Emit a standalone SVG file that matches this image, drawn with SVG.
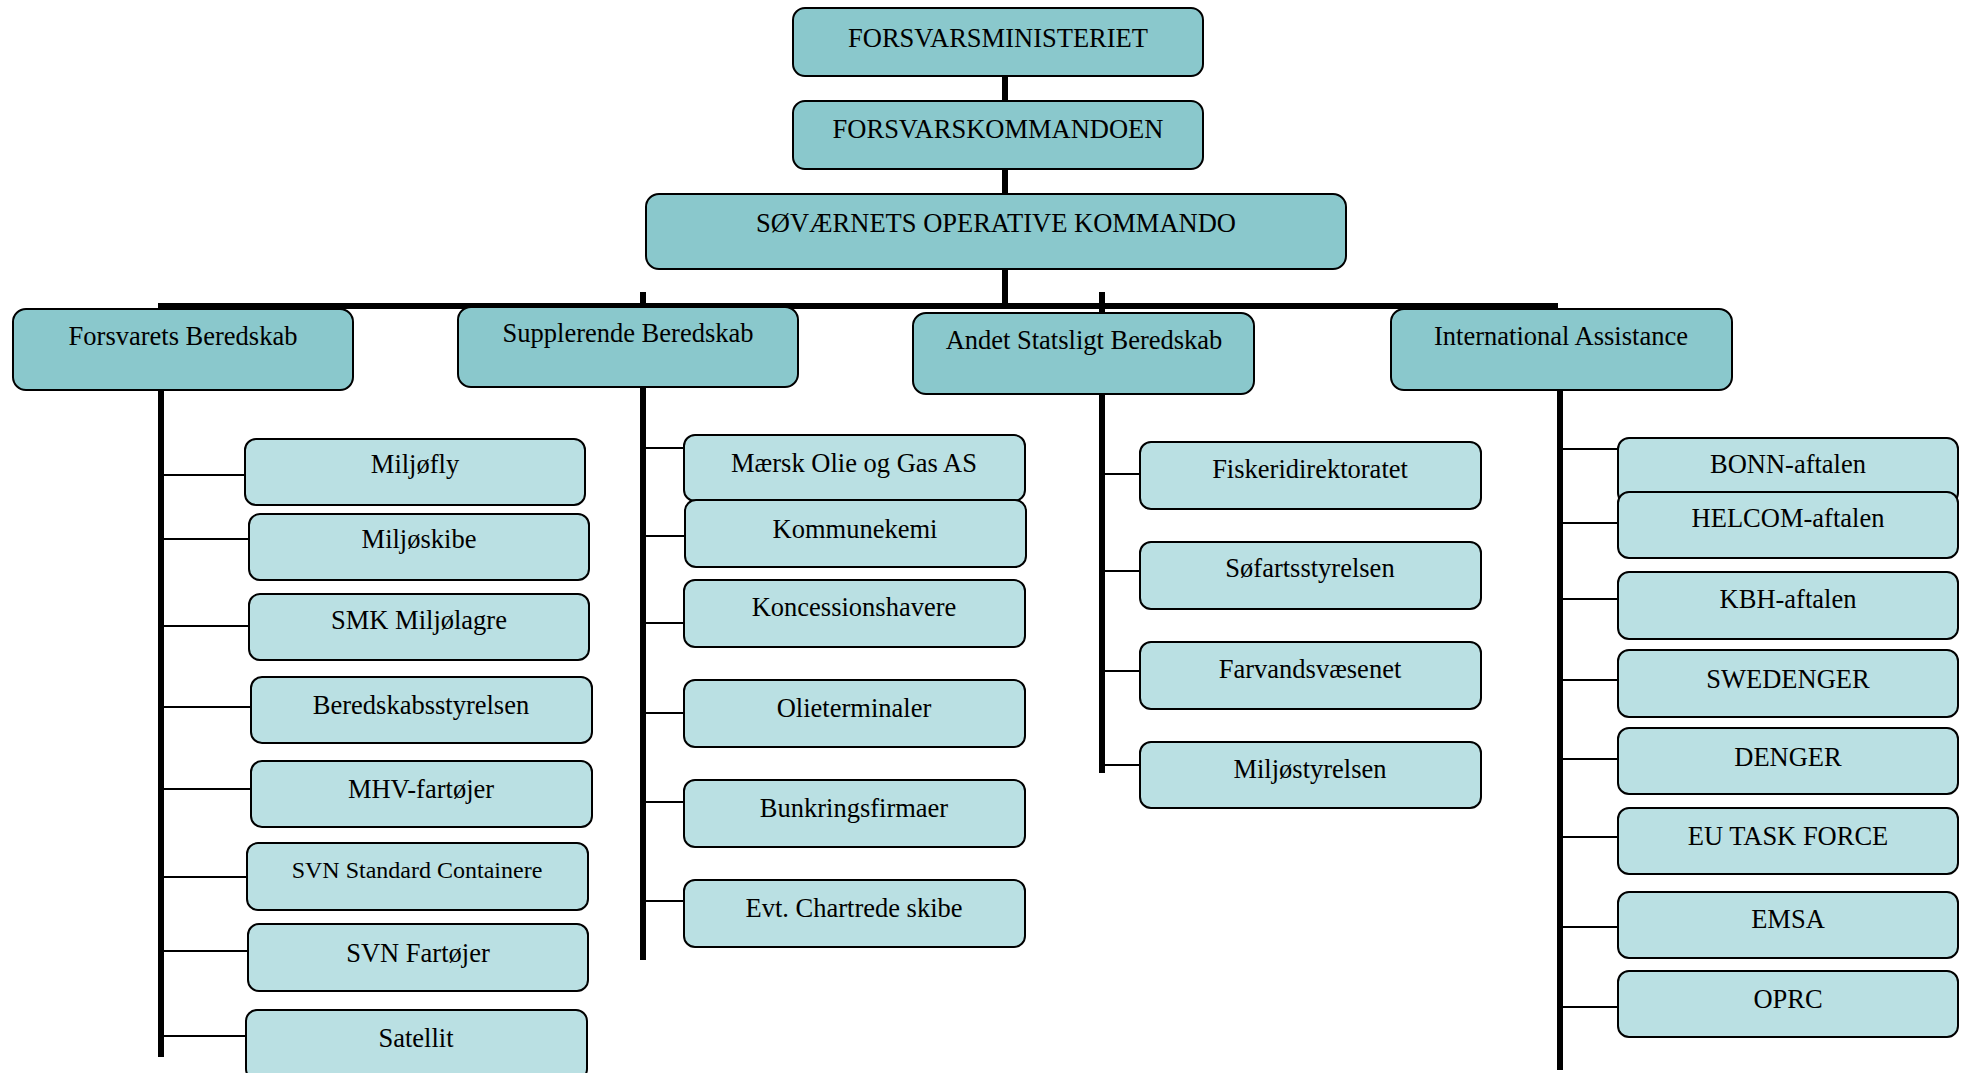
<svg xmlns="http://www.w3.org/2000/svg" width="1966" height="1073" viewBox="0 0 1966 1073">
<style>
.top rect{fill:#8AC8CC;stroke:#000;stroke-width:2}
.l1 rect{fill:#8AC8CC;stroke:#000;stroke-width:2}
.l2 rect{fill:#BAE0E3;stroke:#000;stroke-width:2}
text{font-family:"Liberation Serif","Times New Roman",serif;font-size:26.5px;fill:#000;text-anchor:middle}
.small{font-size:24px}
.thick{stroke:#000;stroke-width:6;fill:none}
.thin{stroke:#000;stroke-width:2;fill:none}
</style>
<rect width="1966" height="1073" fill="#fff"/>
<g id="connectors">
<line class="thick" x1="1005" y1="76" x2="1005" y2="101"/>
<line class="thick" x1="1005" y1="169" x2="1005" y2="194"/>
<line class="thick" x1="1005" y1="269" x2="1005" y2="306"/>
<line class="thick" x1="158" y1="306" x2="1558" y2="306"/>
<line class="thick" x1="643" y1="292" x2="643" y2="309"/>
<line class="thick" x1="1102" y1="292" x2="1102" y2="314"/>
<line class="thick" x1="161" y1="390" x2="161" y2="1057"/>
<line class="thick" x1="643" y1="387" x2="643" y2="960"/>
<line class="thick" x1="1102" y1="394" x2="1102" y2="773"/>
<line class="thick" x1="1560" y1="390" x2="1560" y2="1070"/>
<path class="thin" d="M164 475H245M164 539H249M164 626H249M164 707H251M164 789H251M164 877H247M164 951H248M164 1036H246"/>
<path class="thin" d="M646 448H684M646 536H685M646 623H684M646 713H684M646 802H684M646 901H684"/>
<path class="thin" d="M1105 474H1140M1105 571H1140M1105 671H1140M1105 765H1140"/>
<path class="thin" d="M1563 449H1618M1563 523H1618M1563 599H1618M1563 680H1618M1563 759H1618M1563 837H1618M1563 927H1618M1563 1007H1618"/>
</g>
<g id="n-forsvarsministeriet" class="top"><rect x="793" y="8" width="410" height="68" rx="12"/><text x="998" y="47">FORSVARSMINISTERIET</text></g>
<g id="n-forsvarskommandoen" class="top"><rect x="793" y="101" width="410" height="68" rx="12"/><text x="998" y="138">FORSVARSKOMMANDOEN</text></g>
<g id="n-sok" class="top"><rect x="646" y="194" width="700" height="75" rx="13"/><text x="996" y="232">SØVÆRNETS OPERATIVE KOMMANDO</text></g>
<g id="n-forsvarets" class="l1"><rect x="13" y="309" width="340" height="81" rx="13"/><text x="183" y="345">Forsvarets Beredskab</text></g>
<g id="n-supplerende" class="l1"><rect x="458" y="307" width="340" height="80" rx="13"/><text x="628" y="342">Supplerende Beredskab</text></g>
<g id="n-andet" class="l1"><rect x="913" y="313" width="341" height="81" rx="13"/><text x="1084" y="349">Andet Statsligt Beredskab</text></g>
<g id="n-international" class="l1"><rect x="1391" y="309" width="341" height="81" rx="13"/><text x="1561" y="345">International Assistance</text></g>
<g id="n-miljofly" class="l2"><rect x="245" y="439" width="340" height="66" rx="11"/><text x="415" y="473">Miljøfly</text></g>
<g id="n-miljoskibe" class="l2"><rect x="249" y="514" width="340" height="66" rx="11"/><text x="419" y="548">Miljøskibe</text></g>
<g id="n-smk" class="l2"><rect x="249" y="594" width="340" height="66" rx="11"/><text x="419" y="629">SMK Miljølagre</text></g>
<g id="n-beredskabsstyrelsen" class="l2"><rect x="251" y="677" width="341" height="66" rx="11"/><text x="421" y="714">Beredskabsstyrelsen</text></g>
<g id="n-mhv" class="l2"><rect x="251" y="761" width="341" height="66" rx="11"/><text x="421" y="798">MHV-fartøjer</text></g>
<g id="n-svn-std" class="l2"><rect x="247" y="843" width="341" height="67" rx="11"/><text class="small" x="417" y="878">SVN Standard Containere</text></g>
<g id="n-svn-fart" class="l2"><rect x="248" y="924" width="340" height="67" rx="11"/><text x="418" y="962">SVN Fartøjer</text></g>
<g id="n-satellit" class="l2"><rect x="246" y="1010" width="341" height="70" rx="11"/><text x="416" y="1047">Satellit</text></g>
<g id="n-maersk" class="l2"><rect x="684" y="435" width="341" height="66" rx="11"/><text x="854" y="472">Mærsk Olie og Gas AS</text></g>
<g id="n-kommunekemi" class="l2"><rect x="685" y="500" width="341" height="67" rx="11"/><text x="855" y="538">Kommunekemi</text></g>
<g id="n-koncession" class="l2"><rect x="684" y="580" width="341" height="67" rx="11"/><text x="854" y="616">Koncessionshavere</text></g>
<g id="n-olieterminaler" class="l2"><rect x="684" y="680" width="341" height="67" rx="11"/><text x="854" y="717">Olieterminaler</text></g>
<g id="n-bunkring" class="l2"><rect x="684" y="780" width="341" height="67" rx="11"/><text x="854" y="817">Bunkringsfirmaer</text></g>
<g id="n-evt" class="l2"><rect x="684" y="880" width="341" height="67" rx="11"/><text x="854" y="917">Evt. Chartrede skibe</text></g>
<g id="n-fiskeri" class="l2"><rect x="1140" y="442" width="341" height="67" rx="11"/><text x="1310" y="478">Fiskeridirektoratet</text></g>
<g id="n-sofart" class="l2"><rect x="1140" y="542" width="341" height="67" rx="11"/><text x="1310" y="577">Søfartsstyrelsen</text></g>
<g id="n-farvand" class="l2"><rect x="1140" y="642" width="341" height="67" rx="11"/><text x="1310" y="678">Farvandsvæsenet</text></g>
<g id="n-miljostyrelsen" class="l2"><rect x="1140" y="742" width="341" height="66" rx="11"/><text x="1310" y="778">Miljøstyrelsen</text></g>
<g id="n-bonn" class="l2"><rect x="1618" y="438" width="340" height="66" rx="11"/><text x="1788" y="473">BONN-aftalen</text></g>
<g id="n-helcom" class="l2"><rect x="1618" y="492" width="340" height="66" rx="11"/><text x="1788" y="527">HELCOM-aftalen</text></g>
<g id="n-kbh" class="l2"><rect x="1618" y="572" width="340" height="67" rx="11"/><text x="1788" y="608">KBH-aftalen</text></g>
<g id="n-swedenger" class="l2"><rect x="1618" y="650" width="340" height="67" rx="11"/><text x="1788" y="688">SWEDENGER</text></g>
<g id="n-denger" class="l2"><rect x="1618" y="728" width="340" height="66" rx="11"/><text x="1788" y="766">DENGER</text></g>
<g id="n-eu" class="l2"><rect x="1618" y="808" width="340" height="66" rx="11"/><text x="1788" y="845">EU TASK FORCE</text></g>
<g id="n-emsa" class="l2"><rect x="1618" y="892" width="340" height="66" rx="11"/><text x="1788" y="928">EMSA</text></g>
<g id="n-oprc" class="l2"><rect x="1618" y="971" width="340" height="66" rx="11"/><text x="1788" y="1008">OPRC</text></g>
</svg>
